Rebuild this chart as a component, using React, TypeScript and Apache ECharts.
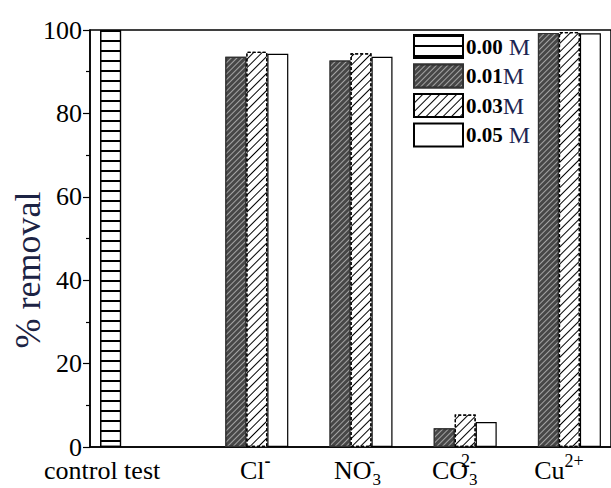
import React, { useEffect, useRef } from "react";
import * as echarts from "echarts";

const categories = ["control test", "Cl-", "NO3-", "CO3 2-", "Cu2+"];
const categoryLabels = [
  "control test",
  "Cl{supb|-}",
  "NO{sup0|-}{sub|3}",
  "CO{sup0|2-}{sub|3}",
  "Cu{sup|2+}",
];
const labelShift = [-40, 9, 7, 0, 0];

const seriesNames = ["0.00 M", "0.01M", "0.03M", "0.05 M"];
const s000 = [100, null, null, null, null];
const s001 = [null, 93.6, 92.7, 4.5, 99.3];
const s003 = [null, 94.8, 94.4, 7.8, 99.5];
const s005 = [null, 94.3, 93.6, 6.0, 99.2];

const yTicks = { min: 0, max: 100, interval: 20 };

const SERIF = '"Liberation Serif", "Times New Roman", serif';

export default function App() {
  const ref = useRef<HTMLDivElement>(null);

  useEffect(() => {
    if (!ref.current) return;
    const chart = echarts.init(ref.current, null, { renderer: "svg" });

    const border = { borderColor: "#000", borderWidth: 1.2 };
    const styles = [
      {
        color: "#fff",
        ...border,
        decal: {
          symbol: "rect",
          symbolSize: 1,
          color: "#000",
          dashArrayX: [1, 0],
          dashArrayY: [1.3, 7.1],
          rotation: 0,
        },
      },
      {
        color: "#474747",
        ...border,
        borderColor: "#333",
        decal: {
          symbol: "rect",
          symbolSize: 1,
          color: "rgba(255,255,255,0.5)",
          dashArrayX: [1, 0],
          dashArrayY: [1, 2.2],
          rotation: -Math.PI / 4,
        },
      },
      {
        color: "#fff",
        ...border,
        borderType: [3, 2],
        decal: {
          symbol: "rect",
          symbolSize: 1,
          color: "#000",
          dashArrayX: [1, 0],
          dashArrayY: [1, 4.2],
          rotation: -Math.PI / 4,
        },
      },
      { color: "#fff", ...border },
    ];
    const datas = [s000, s001, s003, s005];

    const option: any = {
      animation: false,
      grid: {
        left: 90,
        right: -9,
        top: 30,
        bottom: 38,
        show: true,
        borderColor: "#000",
        borderWidth: 1.5,
      },
      legend: {
        orient: "vertical",
        left: 413,
        top: 34,
        icon: "rect",
        itemWidth: 49,
        itemHeight: 23,
        itemGap: 4.5,
        padding: 0,
        data: seriesNames,
        formatter: (name: string) => {
          const num = name.replace(/\s?M$/, "");
          const sp = name.indexOf(" ") >= 0 ? " " : "";
          return `{b|${num}}{m|${sp}M}`;
        },
        textStyle: {
          padding: [0, 0, 0, -2],
          rich: {
            b: { fontFamily: SERIF, fontWeight: "bold", fontSize: 21, color: "#000" },
            m: { fontFamily: SERIF, fontSize: 24, color: "#1c2552" },
          },
        },
      },
      xAxis: {
        type: "category",
        data: categories.map((c, i) => ({
          value: c,
          textStyle:
            labelShift[i] < 0
              ? { padding: [0, -2 * labelShift[i], 0, 0] }
              : { padding: [0, 0, 0, 2 * labelShift[i]] },
        })),
        axisLine: { lineStyle: { color: "#000", width: 1.5 } },
        axisTick: { show: false },
        axisLabel: {
          interval: 0,
          margin: 5,
          fontFamily: SERIF,
          fontSize: 26,
          lineHeight: 36,
          color: "#000",
          formatter: (v: string) => categoryLabels[categories.indexOf(v)],
          rich: {
            sup: { fontFamily: SERIF, fontSize: 18, verticalAlign: "top", lineHeight: 18, color: "#000" },
            supb: { fontFamily: SERIF, fontSize: 18, fontWeight: "bold", verticalAlign: "top", lineHeight: 18, color: "#000" },
            sup0: { fontFamily: SERIF, fontSize: 18, verticalAlign: "top", lineHeight: 18, width: 1, color: "#000" },
            sub: { fontFamily: SERIF, fontSize: 17, verticalAlign: "bottom", lineHeight: 17, color: "#000" },
          },
        },
        splitLine: { show: false },
      },
      yAxis: {
        type: "value",
        min: yTicks.min,
        max: yTicks.max,
        interval: yTicks.interval,
        axisLine: { show: true, lineStyle: { color: "#000", width: 1.5 } },
        axisTick: { show: true, inside: false, length: 7, lineStyle: { color: "#000", width: 1.2 } },
        minorTick: { show: true, splitNumber: 2, length: 4, lineStyle: { color: "#000", width: 1.2 } },
        splitLine: { show: false },
        axisLabel: { margin: 8, fontFamily: SERIF, fontSize: 26, color: "#000" },
      },
      graphic: [
        {
          type: "text",
          x: 28,
          y: 270,
          rotation: Math.PI / 2,
          style: {
            text: "% removal",
            font: `36px ${SERIF}`,
            fill: "#1c2344",
            align: "center",
            verticalAlign: "middle",
          },
        },
      ],
      series: seriesNames.map((name, i) => ({
        name,
        type: "bar",
        barWidth: 21,
        barGap: "0%",
        data: datas[i],
        itemStyle: styles[i],
      })),
    };

    chart.setOption(option);
    return () => chart.dispose();
  }, []);

  return (
    <div
      ref={ref}
      style={{ position: "fixed", left: 0, top: 0, width: 611, height: 488, background: "#fff" }}
    />
  );
}
